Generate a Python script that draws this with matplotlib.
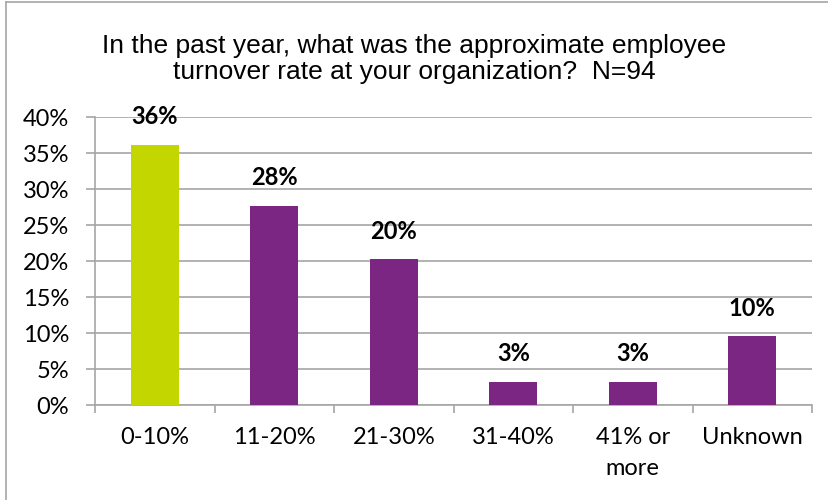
import matplotlib
matplotlib.use('Agg')
import matplotlib.pyplot as plt
import numpy as np
from matplotlib.lines import Line2D

# Responses per turnover band, N=94
categories = ['0-10%', '11-20%', '21-30%', '31-40%', '41% or\nmore', 'Unknown']
counts = [34, 26, 19, 3, 3, 9]
n_total = 94
bar_colors = ['#C4D600', '#7B2682', '#7B2682', '#7B2682', '#7B2682', '#7B2682']
title = 'In the past year, what was the approximate employee\nturnover rate at your organization?  N=94'

pct = [c / n_total * 100 for c in counts]

fig = plt.figure(figsize=(8.29, 5), dpi=100)
ax = fig.add_axes([0.1146, 0.19, 0.9795 - 0.1146, 0.766 - 0.19])

x = np.arange(len(categories))
ax.bar(x, pct, width=0.4, color=bar_colors, zorder=3)

for xi, p in zip(x, pct):
    ax.text(xi, p + 2.3, '{:.0f}%'.format(p), ha='center', va='bottom',
            fontsize=17, fontweight='bold', family='Lato')

ax.set_xlim(-0.5, len(categories) - 0.5)
ax.set_ylim(0, 40)
ax.set_yticks(np.arange(0, 41, 5))
ax.set_yticklabels(['{}%'.format(v) for v in range(0, 41, 5)], family='Lato', fontsize=17)
ax.yaxis.grid(True, color='#A6A6A6', linewidth=1.2, zorder=0)

ax.set_xticks(x)
ax.set_xticklabels(categories, family='Lato', fontsize=17, linespacing=1.6)
ax.set_xticks(np.arange(-0.5, len(categories)), minor=True)
ax.tick_params(axis='x', which='major', length=0, pad=16)
ax.tick_params(axis='x', which='minor', length=6, color='#A6A6A6', width=1.2)
ax.tick_params(axis='y', length=6.5, color='#A6A6A6', width=1.2, pad=12)

for side in ['top', 'right']:
    ax.spines[side].set_visible(False)
for side in ['left', 'bottom']:
    ax.spines[side].set_color('#A6A6A6')
    ax.spines[side].set_linewidth(1.2)

fig.text(0.5, 0.882, title, ha='center', va='center', fontsize=19,
         family='Liberation Sans', linespacing=1.1)

# chart border along top and left edge
fig.add_artist(Line2D([0.0075, 0.0075], [0, 0.996], transform=fig.transFigure,
                      color='#A6A6A6', linewidth=1.2))
fig.add_artist(Line2D([0.0075, 1], [0.996, 0.996], transform=fig.transFigure,
                      color='#A6A6A6', linewidth=1.2))

fig.savefig('out.png', dpi=100)
